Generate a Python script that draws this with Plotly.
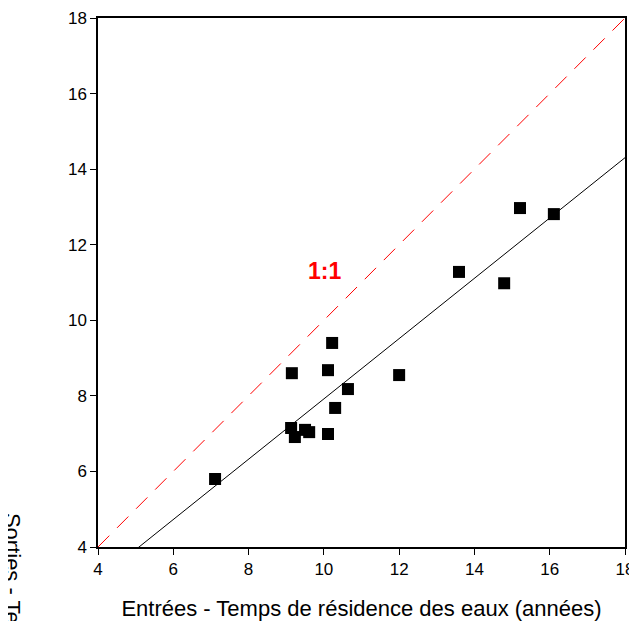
import numpy as np
import plotly.graph_objects as go

# Data
entrees = [7.11, 9.15, 9.13, 9.23, 9.50, 9.61, 10.11, 10.22, 10.11, 10.30, 10.64, 12.00, 13.59, 14.79, 15.21, 16.11]
sorties = [5.80, 8.60, 7.15, 6.91, 7.10, 7.04, 8.68, 9.40, 6.99, 7.68, 8.18, 8.55, 11.28, 10.98, 12.97, 12.81]
axis_range = [4, 18]
tick_vals = [4, 6, 8, 10, 12, 14, 16, 18]
x_title = "Entrées - Temps de résidence des eaux (années)"
y_title = "Sorties - Temps de résidence des eaux (années)"
ratio_label = "1:1"

FONT = "Liberation Sans"

slope, intercept = np.polyfit(entrees, sorties, 1)
line_x = np.array(axis_range, dtype=float)
fit_y = slope * line_x + intercept

fig = go.Figure()
fig.add_trace(go.Scatter(x=line_x, y=line_x, mode="lines",
                         line=dict(color="#ff0000", width=1, dash="16px,11px"),
                         showlegend=False, hoverinfo="skip"))
fig.add_trace(go.Scatter(x=line_x, y=fit_y, mode="lines",
                         line=dict(color="black", width=1),
                         showlegend=False, hoverinfo="skip"))
fig.add_trace(go.Scatter(x=entrees, y=sorties, mode="markers",
                         marker=dict(symbol="square", size=12, color="black"),
                         showlegend=False))

fig.add_annotation(x=10.03, y=11.30, text="<b>" + ratio_label + "</b>", showarrow=False,
                   font=dict(family=FONT, size=23, color="#ff0000"))
fig.add_annotation(xref="paper", yref="paper", x=-0.162, y=0.068, xanchor="center", yanchor="top",
                   text=y_title, textangle=90, showarrow=False,
                   font=dict(family=FONT, size=22, color="black"))

axis_common = dict(range=axis_range, tickvals=tick_vals, showgrid=False, zeroline=False,
                   showline=True, linecolor="black", linewidth=1.5, mirror=True,
                   ticks="outside", ticklen=6, tickwidth=1, tickcolor="black",
                   automargin=False,
                   tickfont=dict(family=FONT, size=17, color="black"))

fig.update_xaxes(**axis_common, title=dict(text=x_title, standoff=24,
                 font=dict(family=FONT, size=22, color="black")))
fig.update_yaxes(**axis_common)

# the page body adds an 8px offset, so the figure is sized to fit the 637x621 window
fig.update_layout(width=629, height=613, margin=dict(l=90, r=12, t=10, b=74),
                  plot_bgcolor="white", paper_bgcolor="white",
                  font=dict(family=FONT))

fig.write_html("out.html")
